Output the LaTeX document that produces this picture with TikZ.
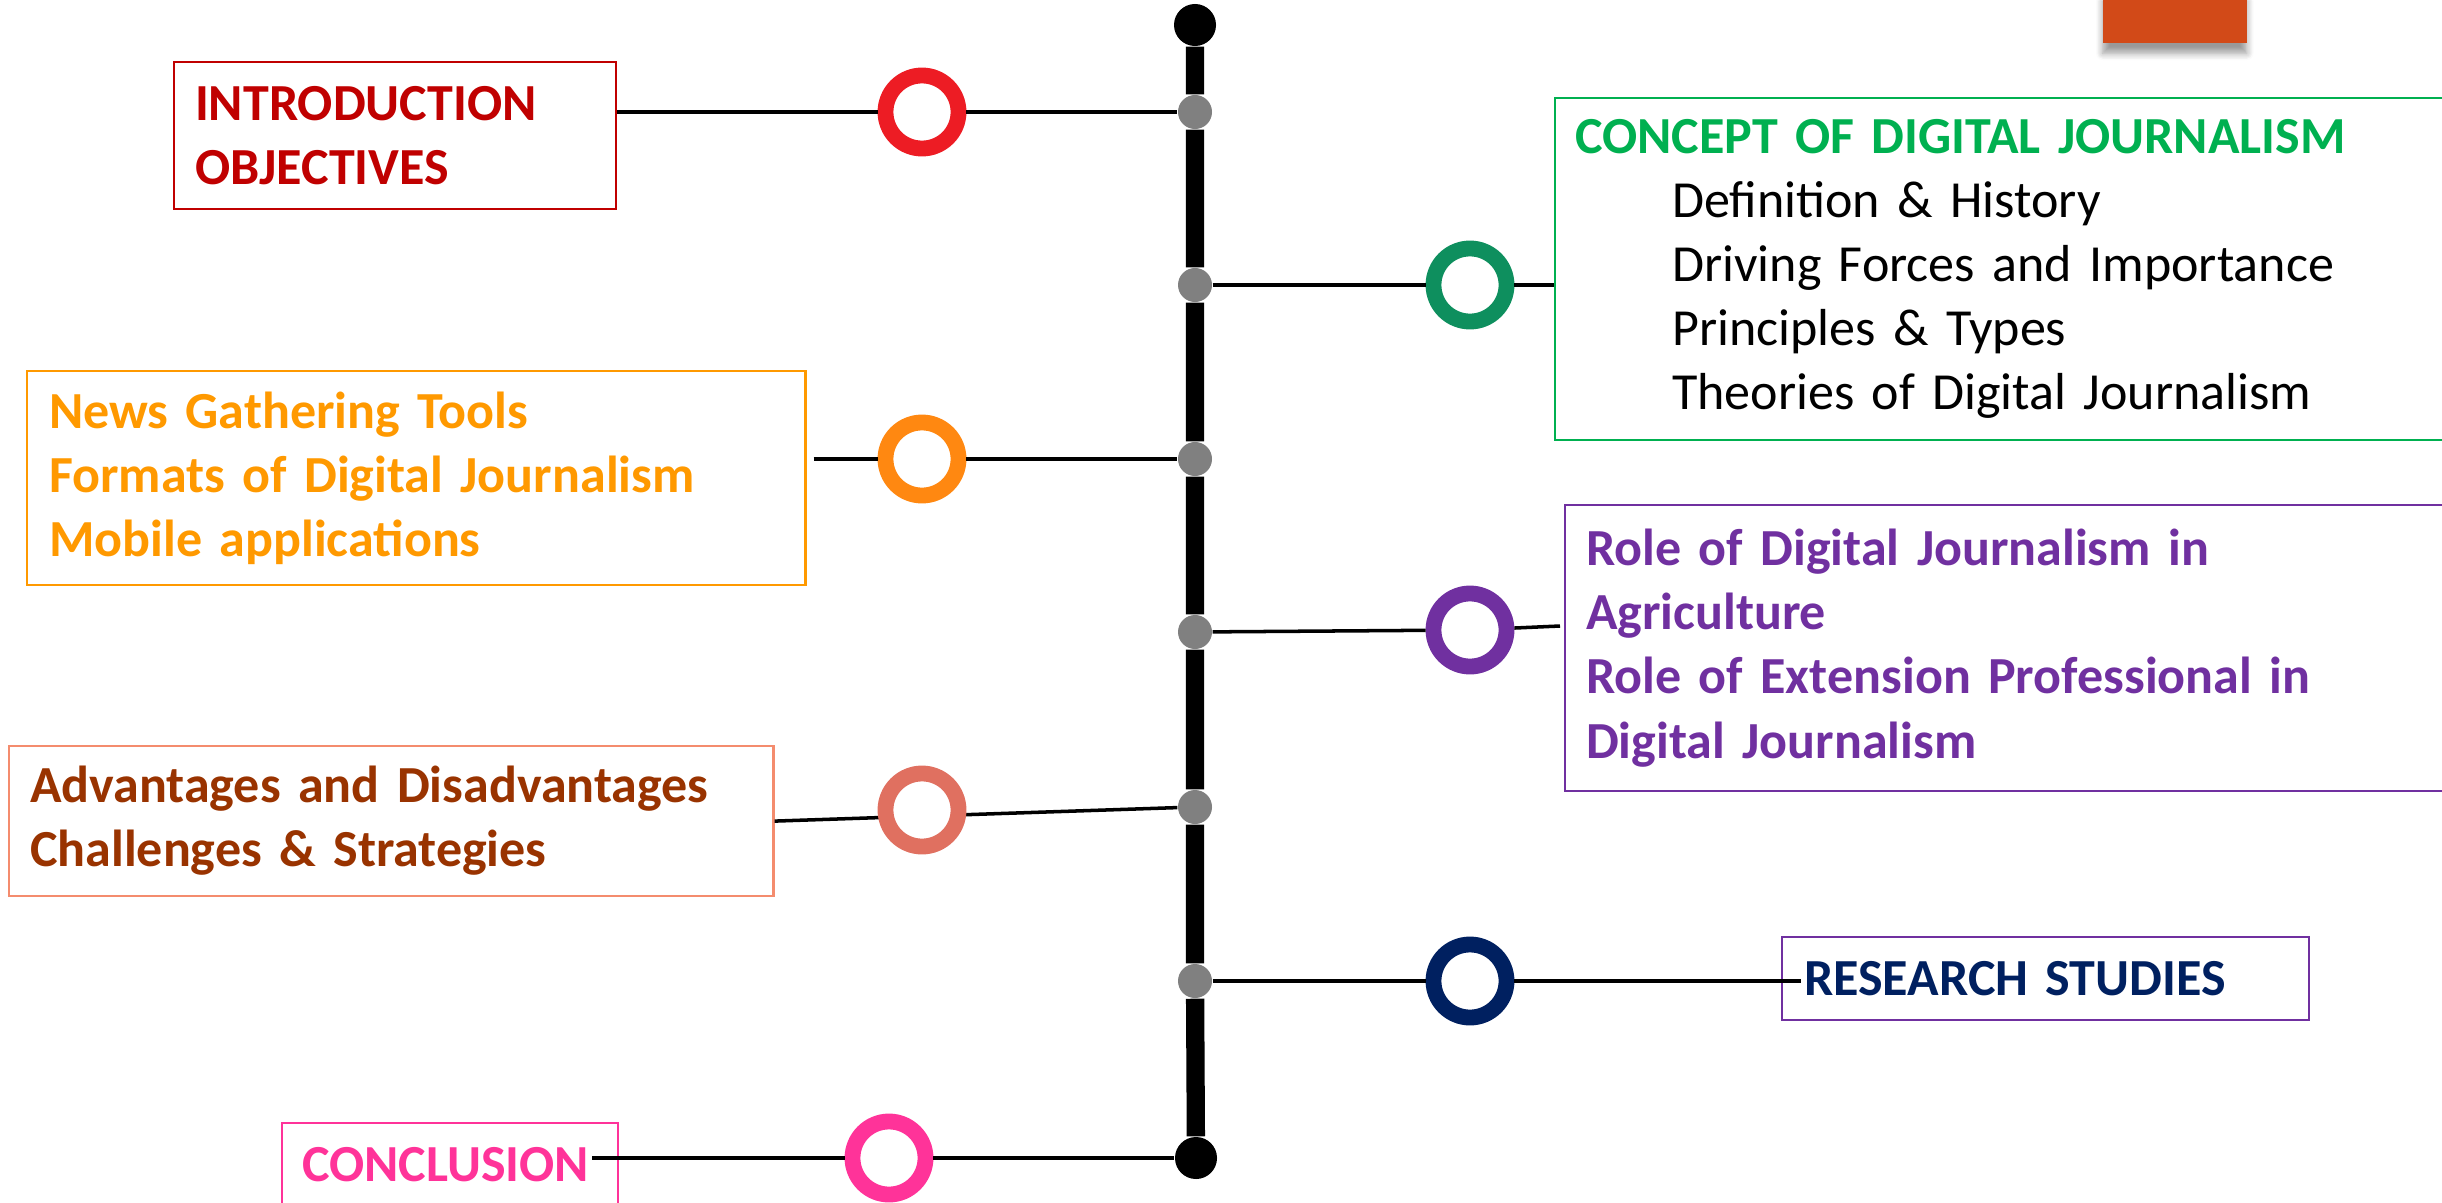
\documentclass[tikz,border=0pt]{standalone}
\usepackage{fontspec}
\setmainfont{Carlito}
\usepackage{xcolor}
\usepackage{tikz}
\usetikzlibrary{positioning, calc, shadows.blur}
\definecolor{myred}{RGB}{192,0,0}
\definecolor{ringred}{RGB}{237,28,36}
\definecolor{mygreen}{RGB}{0,176,80}
\definecolor{ringgreen}{RGB}{14,143,94}
\definecolor{myorange}{RGB}{255,153,0}
\definecolor{ringorange}{RGB}{255,136,17}
\definecolor{mypurple}{RGB}{112,48,160}
\definecolor{mybrown}{RGB}{153,51,0}
\definecolor{ringsalmon}{RGB}{224,112,96}
\definecolor{edgesalmon}{RGB}{244,140,110}
\definecolor{mynavy}{RGB}{0,32,96}
\definecolor{mypink}{RGB}{255,51,153}
\definecolor{mytab}{RGB}{210,74,24}
\tikzset{
  topicbox/.style={rectangle, draw, anchor=north west, align=left,
    inner ysep=0pt, line width=0.6pt,
    font=\fontsize{14.8}{18.2}\selectfont\bfseries},
  ring/.style={circle, draw, fill=white, minimum size=0.73cm,
    inner sep=0pt, line width=4.5pt},
  joint/.style={circle, fill=gray, minimum size=0.34cm, inner sep=0pt},
  enddot/.style={circle, fill=black, minimum size=0.42cm, inner sep=0pt},
  spine/.style={line width=5.2pt, color=black},
  link/.style={line width=1pt, color=black}
}

\begin{document}
\begin{tikzpicture}[x=0.01cm, y=-0.01cm]
  \useasboundingbox (0,0) rectangle (2442,1203);

  % corner tab
  \node[fill=mytab, anchor=north west, minimum width=1.44cm, minimum height=0.52cm,
    inner sep=0pt, blur shadow={shadow xshift=0pt, shadow yshift=-3pt, shadow blur steps=6}]
    (tab) at (2102,-10) {};

  % topic boxes
  \node[topicbox, draw=myred, text=myred, text width=4.00cm, minimum width=4.42cm,
    minimum height=1.47cm, inner xsep=0.21cm] (intro) at (173,61)
    {INTRODUCTION\\OBJECTIVES};
  \node[topicbox, draw=myorange, text=myorange, text width=7.34cm, minimum width=7.78cm,
    minimum height=2.14cm, inner xsep=0.22cm] (gather) at (26,370)
    {News Gathering Tools\\Formats of Digital Journalism\\Mobile applications};
  \node[topicbox, draw=edgesalmon, text=mybrown, text width=7.22cm, minimum width=7.64cm,
    minimum height=1.50cm, inner xsep=0.21cm] (adv) at (8,745)
    {Advantages and Disadvantages\\Challenges \& Strategies};
  \node[topicbox, draw=mypink, text=mypink, text width=2.96cm, minimum width=3.36cm,
    minimum height=0.84cm, inner xsep=0.20cm] (concl) at (281,1122)
    {CONCLUSION};
  \node[topicbox, draw=mygreen, text=black, text width=8.56cm, minimum width=8.96cm,
    minimum height=3.42cm, inner xsep=0.20cm] (concept) at (1554,97)
    {\textcolor{mygreen}{CONCEPT OF DIGITAL JOURNALISM}\\
     \mdseries\hspace*{0.97cm}Definition \& History\\
     \mdseries\hspace*{0.97cm}Driving Forces and Importance\\
     \mdseries\hspace*{0.97cm}Principles \& Types\\
     \mdseries\hspace*{0.97cm}Theories of Digital Journalism};
  \node[topicbox, draw=mypurple, text=mypurple, text width=8.44cm, minimum width=8.86cm,
    minimum height=2.86cm, inner xsep=0.21cm] (role) at (1564,504)
    {Role of Digital Journalism in\\Agriculture\\Role of Extension Professional in\\Digital Journalism};
  \node[topicbox, draw=mypurple, text=mynavy, text width=4.83cm, minimum width=5.27cm,
    minimum height=0.83cm, inner xsep=0.22cm] (research) at (1781,936)
    {RESEARCH STUDIES};

  % spine with its joints
  \node[enddot] (top) at (1195,25) {};
  \node[enddot] (bottom) at (1196,1158) {};
  \foreach \n/\y in {1/112, 2/285, 3/459, 4/632, 5/807, 6/981}
    \node[joint] (j\n) at (1195,\y) {};
  \draw[spine] (top) -- (j1) -- (j2) -- (j3) -- (j4) -- (j5) -- (j6) -- (bottom);

  % this one runs straight under its ring
  \draw[link] (adv.east) -- (j5);

  % rings
  \node[ring, draw=ringred] (r1) at (922,112) {};
  \node[ring, draw=ringgreen] (r2) at (1470,285) {};
  \node[ring, draw=ringorange] (r3) at (922,459) {};
  \node[ring, draw=mypurple] (r4) at (1470,630) {};
  \node[ring, draw=ringsalmon] (r5) at (922,810) {};
  \node[ring, draw=mynavy] (r6) at (1470,981) {};
  \node[ring, draw=mypink] (r7) at (889,1158) {};

  % links
  \coordinate (rolelink) at (1560,626);
  \draw[link] (intro.east |- j1) -- (r1) -- (j1);
  \draw[link] (j2) -- (r2) -- (concept.west |- j2);
  \draw[link] ($(gather.east |- j3)+(7,0)$) -- (r3) -- (j3);
  \draw[link] (j4) -- (r4) -- (rolelink);
  \draw[link] (j6) -- (r6) -- ($(research.west |- j6)+(20,0)$);
  \draw[link] ($(concl.east |- bottom)+(-27,0)$) -- (r7) -- (bottom);
\end{tikzpicture}
\end{document}
